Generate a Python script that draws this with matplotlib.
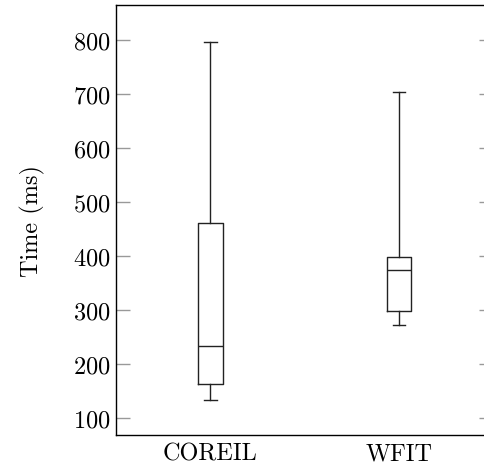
import matplotlib
matplotlib.use("Agg")
import matplotlib.pyplot as plt

plt.rcParams["font.family"] = "cmr10"
plt.rcParams["axes.formatter.use_mathtext"] = True

# Box plot statistics (ms)
labels = ["COREIL", "WFIT"]
whisker_low = [134, 273]
q1 = [163, 299]
median = [233, 374]
q3 = [462, 399]
whisker_high = [797, 704]

stats = []
for i, name in enumerate(labels):
    stats.append({
        "label": name,
        "whislo": whisker_low[i],
        "q1": q1[i],
        "med": median[i],
        "q3": q3[i],
        "whishi": whisker_high[i],
        "fliers": [],
    })

fig = plt.figure(figsize=(4.85, 4.64), dpi=100)
ax = fig.add_axes([116 / 485, 1 - 436 / 464, 377.5 / 485, 430 / 464])

line = dict(color="#222222", linewidth=1.0)
ax.bxp(stats, positions=[1, 2], widths=0.13, showfliers=False,
       boxprops=line, whiskerprops=line, capprops=line,
       medianprops=line)

ax.set_xlim(0.5, 2.5)
ax.set_ylim(68.5, 865)
ax.set_yticks([100, 200, 300, 400, 500, 600, 700, 800])
ax.set_xticks([1, 2])
ax.set_xticklabels(labels)

ax.tick_params(axis="y", direction="in", length=10, width=1, color="#999999",
               left=True, right=True, labelsize=17.5, pad=4)
ax.tick_params(axis="x", length=0, labelsize=17.5, pad=5)
for s in ax.spines.values():
    s.set_linewidth(1.0)

ax.set_ylabel("Time (ms)", fontsize=17.5, labelpad=20)

fig.savefig("out.png", dpi=100)
